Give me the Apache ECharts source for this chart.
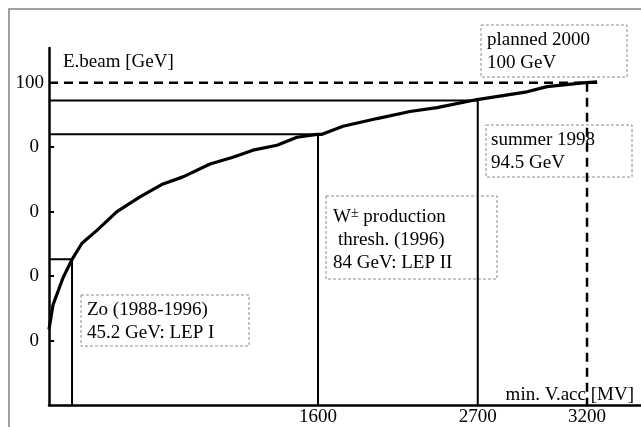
<!DOCTYPE html>
<html>
<head>
<meta charset="utf-8">
<style>
  html, body { margin: 0; padding: 0; background: #fff; }
  #chart { width: 641px; height: 427px; }
</style>
<script src="https://cdn.jsdelivr.net/npm/echarts@6/dist/echarts.min.js"></script>
</head>
<body>
<div id="chart"></div>
<script>
// beam energy curve; x is the position along the V.acc axis (MV scale set by the 1600/3200 marks)
const vAcc = [0, 24, 83, 137, 196, 285, 404, 541, 678, 797, 958, 1094, 1213, 1356, 1475, 1594,
  1624, 1749, 1951, 2147, 2308, 2546, 2843, 2962, 3176, 3260];
const eBeam = [23.4, 31.1, 39.4, 45.2, 50.2, 54.2, 60, 64.6, 68.6, 70.8, 74.8, 76.9, 79.1, 80.6, 83.1, 84,
  84, 86.5, 88.9, 91.1, 92.3, 94.8, 97.2, 98.8, 100, 100.3];

const yTicks = [20, 40, 60, 80, 100];
const yTickText = ['0', '0', '0', '0', '100'];
const xTicks = [1600, 2550, 3200];
const xTickText = ['1600', '2700', '3200'];

// operating points [x, E]
const zoPoint = [137, 45.2];
const wPoint = [1600, 84];
const summerPoint = [2550, 94.5];
const plannedPoint = [3200, 100];
const plannedEnd = 3260;

const FONT = '"Liberation Serif", "Times New Roman", serif';
const SIZE = 19;
const chart = echarts.init(document.getElementById('chart'));

// L-shaped guide: from the y axis to the point, then down to the x axis
const guide = (p) => [[0, p[1]], [p[0], p[1]], [p[0], 0]];

const box = (x, y, w, h, lines) => ({
  type: 'group',
  children: [
    {
      type: 'rect',
      shape: { x: x, y: y, width: w, height: h },
      style: { fill: 'none', stroke: '#8c8c8c', lineWidth: 1, lineDash: [3, 2] },
    },
    ...lines.map((l) => ({
      type: 'text',
      x: l.x,
      y: l.y,
      style: {
        text: l.text,
        font: SIZE + 'px ' + FONT,
        fill: '#000',
        verticalAlign: 'middle',
        rich: l.rich,
      },
    })),
  ],
});

const option = {
  animation: false,
  backgroundColor: '#fff',
  grid: { left: 49, right: 0, top: 48, bottom: 19 },
  xAxis: {
    type: 'value',
    min: 0,
    max: 3521,
    splitLine: { show: false },
    axisLine: { lineStyle: { color: '#000', width: 2.5 } },
    axisTick: { show: false },
    axisLabel: {
      customValues: xTicks,
      formatter: (v) => xTickText[xTicks.indexOf(v)],
      color: '#000',
      fontFamily: FONT,
      fontSize: SIZE,
      margin: 3,
    },
  },
  yAxis: {
    type: 'value',
    min: 0,
    max: 110.8,
    splitLine: { show: false },
    axisLine: { show: true, lineStyle: { color: '#000', width: 2.5 } },
    axisTick: {
      show: true,
      inside: true,
      length: 5,
      customValues: yTicks,
      lineStyle: { color: '#000', width: 2 },
    },
    axisLabel: {
      customValues: yTicks,
      formatter: (v) => {
        const t = yTickText[yTicks.indexOf(v)];
        return t.length > 1 ? t : '{p|' + t + '}';
      },
      rich: { p: { padding: [0, 5, 0, 0], fontSize: SIZE, fontFamily: FONT, color: '#000' } },
      color: '#000',
      fontFamily: FONT,
      fontSize: SIZE,
      margin: 5,
    },
  },
  graphic: [
    {
      type: 'rect',
      shape: { x: 9, y: 9, width: 720, height: 520 },
      style: { fill: 'none', stroke: '#808080', lineWidth: 1.5 },
      z: -1,
    },
    {
      type: 'text', x: 63, y: 62,
      style: { text: 'E.beam [GeV]', font: SIZE + 'px ' + FONT, fill: '#000', verticalAlign: 'middle' },
    },
    {
      type: 'text', x: 634, y: 395,
      style: { text: 'min. V.acc [MV]', font: SIZE + 'px ' + FONT, fill: '#000', align: 'right', verticalAlign: 'middle' },
    },
    box(481, 25, 146, 52, [
      { x: 487, y: 40, text: 'planned 2000' },
      { x: 487, y: 63, text: '100 GeV' },
    ]),
    box(486, 125, 146, 52, [
      { x: 491, y: 140, text: 'summer 1998' },
      { x: 491, y: 163, text: '94.5 GeV' },
    ]),
    box(326, 196, 171, 83, [
      {
        x: 333, y: 217, text: '{n|W}{s|±}{n| production}',
        rich: {
          n: { fontSize: SIZE, fontFamily: FONT, fill: '#000' },
          s: { fontSize: 14, fontFamily: FONT, fill: '#000', verticalAlign: 'top', padding: [0, 0, 7, 0] },
        },
      },
      { x: 338, y: 240, text: 'thresh. (1996)' },
      { x: 333, y: 263, text: '84 GeV: LEP II' },
    ]),
    box(81, 295, 168, 51, [
      { x: 87, y: 310, text: 'Zo (1988-1996)' },
      { x: 87, y: 333, text: '45.2 GeV: LEP I' },
    ]),
  ],
  series: [
    {
      name: 'E.beam',
      type: 'line',
      data: vAcc.map((v, i) => [v, eBeam[i]]),
      symbol: 'none',
      lineStyle: { color: '#000', width: 3.2 },
      z: 5,
    },
    ...[zoPoint, wPoint, summerPoint].map((p) => ({
      type: 'line',
      data: guide(p),
      symbol: 'none',
      lineStyle: { color: '#000', width: 2 },
      z: 4,
    })),
    {
      type: 'line',
      data: [[0, plannedPoint[1]], [plannedEnd, plannedPoint[1]]],
      symbol: 'none',
      lineStyle: { color: '#000', width: 2.5, type: [9, 6] },
      z: 4,
    },
    {
      type: 'line',
      data: [[plannedPoint[0], plannedPoint[1]], [plannedPoint[0], 0]],
      symbol: 'none',
      lineStyle: { color: '#000', width: 2.5, type: [9, 6] },
      z: 4,
    },
  ],
};

chart.setOption(option);
</script>
</body>
</html>
